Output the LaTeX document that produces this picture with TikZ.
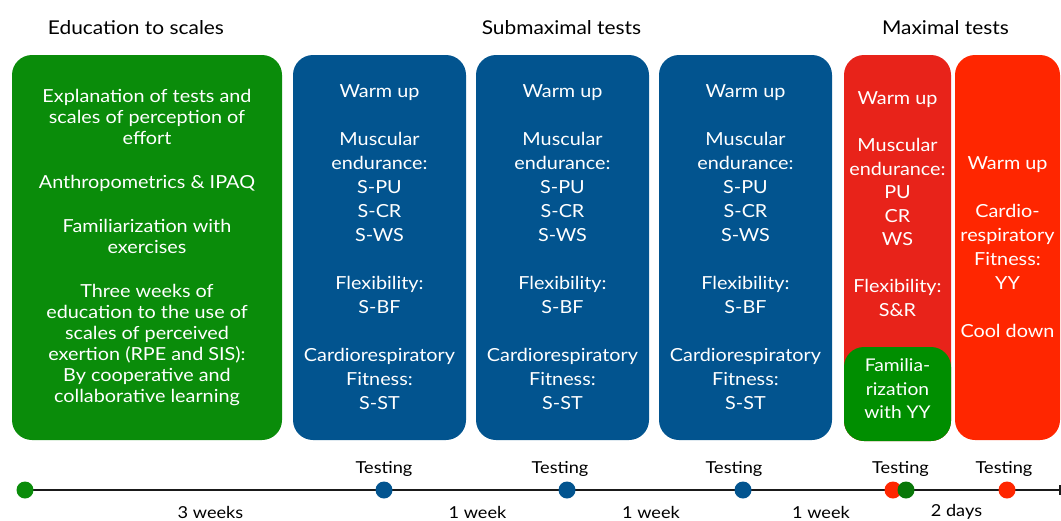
\documentclass[tikz,border=0pt]{standalone}
\usepackage{fontspec}
\setmainfont{Lato}[FakeStretch=1.1]
\usetikzlibrary{positioning,calc,arrows.meta}
\definecolor{eduGreen}{HTML}{0A8C0A}
\definecolor{famGreen}{HTML}{008E00}
\definecolor{subBlue}{HTML}{02548F}
\definecolor{maxRedA}{HTML}{E8231A}
\definecolor{maxRedB}{HTML}{FF2600}
\definecolor{lineGray}{HTML}{1A1A1A}
% text of one submaximal session
\newcommand{\subsession}{Warm up\\[24pt]
  Muscular\\ endurance:\\ S-PU\\ S-CR\\ S-WS\\[24pt]
  Flexibility:\\ S-BF\\[24pt]
  Cardiorespiratory\\ Fitness:\\ S-ST}
\begin{document}
\begin{tikzpicture}[x=1pt, y=-1pt, line join=round, line cap=round,
    box/.style={rounded corners=20pt, minimum height=385pt, inner sep=0pt,
      text=white, align=center, font=\fontsize{18}{24}\selectfont},
    heading/.style={font=\fontsize{19}{23}\selectfont},
    dot/.style={circle, inner sep=0pt, minimum size=17pt},
    stamp/.style={font=\fontsize{16.5}{20}\selectfont, inner sep=1pt},
    span/.style={font=\fontsize{16.5}{20}\selectfont, inner sep=1pt}]
	\useasboundingbox (0,0) rectangle (1061,520);
	% headings
	\node[heading] (tEdu) at (136,28) {Education to scales};
	\node[heading] (tSub) at (561.5,28) {Submaximal tests};
	\node[heading] (tMax) at (945.5,28) {Maximal tests};
	% education block
	\node[box, fill=eduGreen, minimum width=270pt,
	  font=\fontsize{18}{21}\selectfont] (edu) at (147,247.5)
	  {Explanation of tests and\\ scales of perception of\\ effort\\[23pt]
	   Anthropometrics \& IPAQ\\[23pt]
	   Familiarization with\\ exercises\\[23pt]
	   Three weeks of\\ education to the use of\\ scales of perceived\\
	   exertion (RPE and SIS):\\ By cooperative and\\ collaborative learning};
	% submaximal sessions
	\foreach \cx/\nm in {379.5/subA, 562.5/subB, 745.5/subC}
		\node[box, fill=subBlue, minimum width=173pt] (\nm) at (\cx,247.5) {\subsession};
	% maximal sessions
	\node[box, fill=maxRedA, minimum width=107pt, minimum height=386pt] (maxA) at (897.5,248) {};
	\node[box, fill=maxRedB, minimum width=105pt] (maxB) at (1007.5,247.5)
	  {Warm up\\[24pt] Cardio-\\ respiratory\\ Fitness:\\ YY\\[24pt] Cool down};
	\node[text=white, align=center, font=\fontsize{18}{23.5}\selectfont] (maxAtxt) at (897.5,204)
	  {Warm up\\[23.5pt] Muscular\\ endurance:\\ PU\\ CR\\ WS\\[23.5pt] Flexibility:\\ S\&R};
	\node[rounded corners=20pt, fill=famGreen, minimum width=107pt, minimum height=94pt,
	  inner sep=0pt, anchor=south] (fam) at (maxA.south) {};
	\node[text=white, align=center, font=\fontsize{17.5}{23.5}\selectfont] (famtxt)
	  at ($(fam.center)+(0,-5)$) {Familia-\\ rization\\ with YY};
	% time line
	\coordinate (tStart) at (25,490);
	\coordinate (tEnd) at (1061,490);
	\draw[lineGray, line width=1.8pt, -{Bar[width=10pt]}] (tStart) -- (tEnd);
	\node[dot, fill=eduGreen] (d0) at (tStart) {};
	\node[dot, fill=subBlue] (d1) at (384,490) {};
	\node[dot, fill=subBlue] (d2) at (567,490) {};
	\node[dot, fill=subBlue] (d3) at (743,490) {};
	\node[dot, fill=maxRedB] (d4) at (893,490) {};
	\node[dot, fill=eduGreen!85!black] (d5) at (906,490) {};
	\node[dot, fill=maxRedB] (d6) at (1007,490) {};
	\node[stamp, above=4pt of d1] (s1) {Testing};
	\node[stamp, above=4pt of d2, xshift=-7pt] (s2) {Testing};
	\node[stamp, above=4pt of d3, xshift=-9pt] (s3) {Testing};
	\node[stamp, above=12.5pt of $(d4)!0.5!(d5)$, xshift=1pt] (s4) {Testing};
	\node[stamp, above=4pt of d6, xshift=-3pt] (s5) {Testing};
	\node[span] (w1) at ($(d0)!0.5!(d1)+(6,22)$) {3 weeks};
	\node[span] (w2) at ($(d1)!0.5!(d2)+(2,22)$) {1 week};
	\node[span] (w3) at ($(d2)!0.5!(d3)+(-4,22)$) {1 week};
	\node[span] (w4) at ($(d3)!0.5!(d4)+(3,22)$) {1 week};
	\node[span] (w5) at ($(d5)!0.5!(d6)+(0,22)$) {2 days};
\end{tikzpicture}
\end{document}
